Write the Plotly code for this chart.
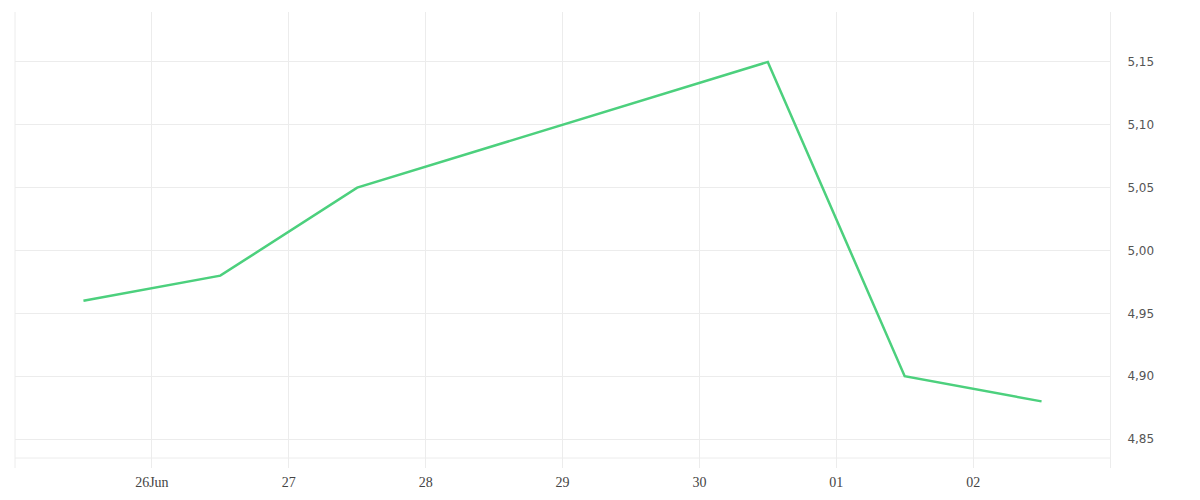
import plotly.graph_objects as go

# daily closing values, late June / early July 2025 (no data on the weekend)
dates = ['2025-06-25 12:00', '2025-06-26 12:00', '2025-06-27 12:00',
         '2025-06-30 12:00', '2025-07-01 12:00', '2025-07-02 12:00']
values = [4.96, 4.98, 5.05, 5.15, 4.90, 4.88]

tick_dates = ['2025-06-26', '2025-06-27', '2025-06-28', '2025-06-29',
              '2025-06-30', '2025-07-01', '2025-07-02']
tick_labels = ['26Jun', '27', '28', '29', '30', '01', '02']

y_ticks = [4.85, 4.90, 4.95, 5.00, 5.05, 5.10, 5.15]

grid = '#ececec'

fig = go.Figure()
fig.add_trace(go.Scatter(x=dates, y=values, mode='lines',
                         line=dict(color='#4cd07d', width=2.5),
                         hoverinfo='x+y'))

# the page body adds an 8px offset, margins compensate for it
fig.update_layout(
    width=1200, height=500,
    margin=dict(l=7, r=98, t=4, b=40),
    paper_bgcolor='white', plot_bgcolor='white',
    separators=',.',
    showlegend=False,
    xaxis=dict(
        type='date',
        range=['2025-06-25 00:00', '2025-07-03 00:00'],
        tickvals=tick_dates, ticktext=tick_labels,
        showgrid=True, gridcolor=grid, gridwidth=1,
        zeroline=False, showline=False, ticks='',
        tickfont=dict(family='Liberation Serif', size=14, color='#444'),
        ticklabelstandoff=4,
        automargin=False,
    ),
    yaxis=dict(
        side='right',
        range=[4.827, 5.1897],
        tickvals=y_ticks, tickformat='.2f',
        showgrid=True, gridcolor=grid, gridwidth=1,
        zeroline=False, ticks='',
        showline=True, linecolor=grid, linewidth=1,
        tickfont=dict(family='DejaVu Sans', size=12, color='#555'),
        ticklabelstandoff=14,
        automargin=False,
    ),
)

# left border and bottom rule of the plot frame
fig.add_shape(type='line', xref='paper', yref='paper', x0=0, x1=0, y0=0, y1=1,
              line=dict(color=grid, width=1), layer='below')
fig.add_shape(type='line', xref='paper', yref='paper', x0=0, x1=1, y0=10 / 456, y1=10 / 456,
              line=dict(color=grid, width=1), layer='below')

fig.write_html("out.html")
